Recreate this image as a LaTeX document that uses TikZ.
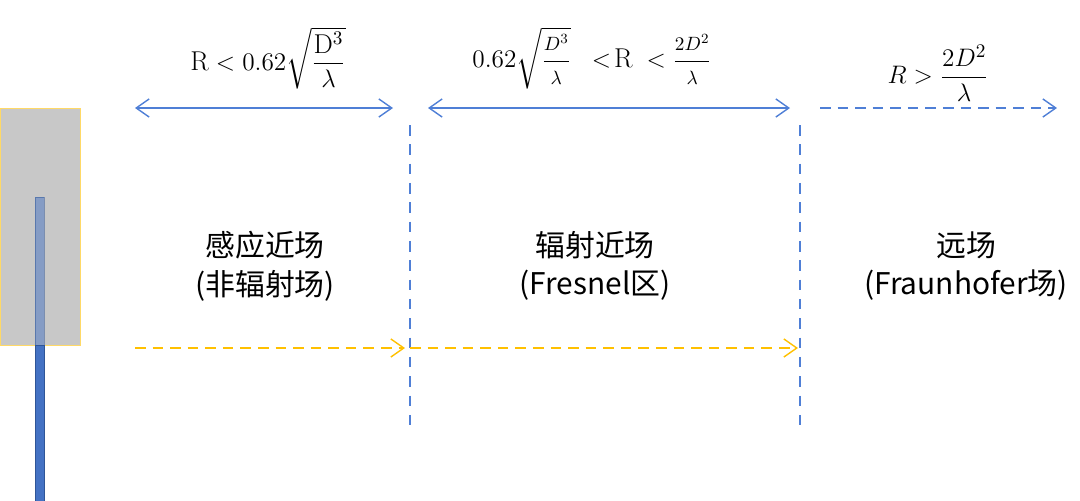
\documentclass[tikz,border=0pt]{standalone}
\usepackage{amsmath}
\usepackage{fontspec}
\newfontfamily\cjkfont{Noto Sans CJK SC}
\usetikzlibrary{arrows.meta}
\definecolor{lineblue}{HTML}{4F7FD6}
\definecolor{barblue}{HTML}{4472C4}
\definecolor{baredge}{HTML}{2F5597}
\definecolor{zoneyellow}{HTML}{FFC000}
\definecolor{boxgray}{HTML}{C8C8C8}
\definecolor{boxedge}{HTML}{FFD966}

\begin{document}
\begin{tikzpicture}[x=0.02cm,y=-0.02cm,
    zone/.style={font=\cjkfont\fontsize{17}{22}\selectfont, align=center},
    formula/.style={font=\fontsize{15.5}{18}\selectfont}]
\useasboundingbox (0,0) rectangle (1080,501);

    % antenna
    \draw[boxedge, fill=boxgray] (0.5,108) rectangle (80,345);
    \draw[baredge, fill=barblue, fill opacity=0.5, draw opacity=0.5] (35,197) rectangle (44,345);
    \draw[baredge, fill=barblue] (35,345) rectangle (44,501);

    % range arrows on top
    \coordinate (a1) at (135,108);
    \coordinate (a2) at (393,108);
    \coordinate (b1) at (428,108);
    \coordinate (b2) at (790,108);
    \coordinate (c1) at (820,108);
    \coordinate (c2) at (1057,108);
    \draw[lineblue, thick, {Straight Barb[angle=70:9pt]}-{Straight Barb[angle=70:9pt]}] (a1) -- (a2);
    \draw[lineblue, thick, {Straight Barb[angle=70:9pt]}-{Straight Barb[angle=70:9pt]}] (b1) -- (b2);
    \draw[lineblue, thick, dash pattern=on 6pt off 4pt, -{Straight Barb[angle=70:9pt]}] (c1) -- (c2);

    % borders between regions
    \foreach \x/\name in {410/l1,800/l2}{
        \coordinate (\name top) at (\x,125);
        \coordinate (\name bot) at (\x,425);
        \draw[lineblue, thick, dash pattern=on 6pt off 5pt] (\name top) -- (\name bot);
    }

    % yellow arrows
    \coordinate (y0) at (135,348);
    \coordinate (y1) at (405,348);
    \coordinate (y2) at (410,348);
    \coordinate (y3) at (798,348);
    \draw[zoneyellow, thick, dash pattern=on 6pt off 4pt, -{Straight Barb[angle=70:9pt]}] (y0) -- (y1);
    \draw[zoneyellow, thick, dash pattern=on 6pt off 4pt, -{Straight Barb[angle=70:9pt]}] (y2) -- (y3);

    % formulas
    \node[formula] (f1) at (268,58) {$\mathrm{R}<0.62\sqrt{\dfrac{\mathrm{D}^3}{\lambda}}$};
    \node[formula] (f2) at (592,58) {$0.62\sqrt{\dfrac{\scriptstyle D^3}{\scriptstyle\lambda}}\;\;<\!\mathrm{R}\;<\dfrac{\scriptstyle 2D^2}{\scriptstyle\lambda}$};
    \node[formula] (f3) at (938,73) {$R>\dfrac{2D^2}{\mathrm{\lambda}}$};

    % region names
    \node[zone] (near1) at (265,266) {感应近场\\(非辐射场)};
    \node[zone] (near2) at (595,266) {辐射近场\\(Fresnel区)};
    \node[zone] (far) at (966,266) {远场\\(Fraunhofer场)};
\end{tikzpicture}
\end{document}
